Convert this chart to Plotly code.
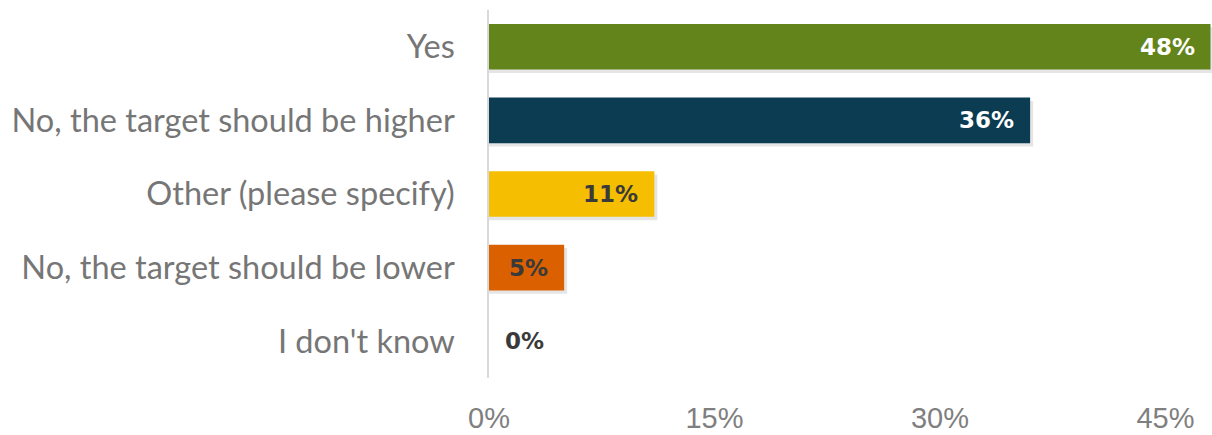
import plotly.graph_objects as go

categories = ["Yes", "No, the target should be higher", "Other (please specify)",
              "No, the target should be lower", "I don't know"]
values = [48, 36, 11, 5, 0]
labels = ["48%", "36%", "11%", "5%", "0%"]
colors = ["#63841A", "#0B3C52", "#F5BE00", "#DB6100", "#FFFFFF"]
label_colors = ["#FFFFFF", "#FFFFFF", "#3A3A3A", "#3A3A3A", "#3A3A3A"]
tick_vals = [0, 15, 30, 45]
tick_text = ["0%", "15%", "30%", "45%"]

bar_w = 0.62

fig = go.Figure()
# soft drop shadow under each bar
fig.add_trace(go.Bar(
    y=categories, x=[v + 0.2 if v > 0 else 0 for v in values], orientation="h",
    width=bar_w, offset=-bar_w / 2 - 0.045,
    marker=dict(color="rgba(0,0,0,0.10)", line=dict(width=0)),
    hoverinfo="skip",
))
fig.add_trace(go.Bar(
    y=categories, x=values, orientation="h",
    width=bar_w, offset=-bar_w / 2,
    marker=dict(color=colors, line=dict(width=0)),
    hoverinfo="skip",
))

for cat, v, lab, lc in zip(categories, values, labels, label_colors):
    if v > 0:
        fig.add_annotation(x=v, y=cat, text=lab, showarrow=False, xanchor="right",
                           xshift=-14, font=dict(family="DejaVu Sans", size=23, color=lc,
                                                 weight="bold"))
    else:
        fig.add_annotation(x=v, y=cat, text=lab, showarrow=False, xanchor="left",
                           xshift=14, font=dict(family="DejaVu Sans", size=23, color=lc,
                                                weight="bold"))

fig.update_layout(
    width=1212, height=435,
    margin=dict(l=489, r=0, t=10, b=57),
    paper_bgcolor="white", plot_bgcolor="white",
    barmode="overlay", showlegend=False,
    xaxis=dict(range=[0, 48.1], tickvals=tick_vals, ticktext=tick_text,
               showgrid=False, zeroline=False, showline=False,
               ticks="", ticklabelstandoff=20,
               tickfont=dict(family="Liberation Sans", size=29, color="#7F7F7F")),
    yaxis=dict(categoryorder="array", categoryarray=categories[::-1],
               showgrid=False, zeroline=False, showline=True,
               linecolor="#D9D9D9", linewidth=1.5, ticks="", ticklabelstandoff=26,
               tickfont=dict(family="Lato", size=32.5, color="#767676")),
)

fig.write_html("out.html", config={"displayModeBar": False},
               post_script="document.body.style.margin='0';document.body.style.overflow='hidden';")
